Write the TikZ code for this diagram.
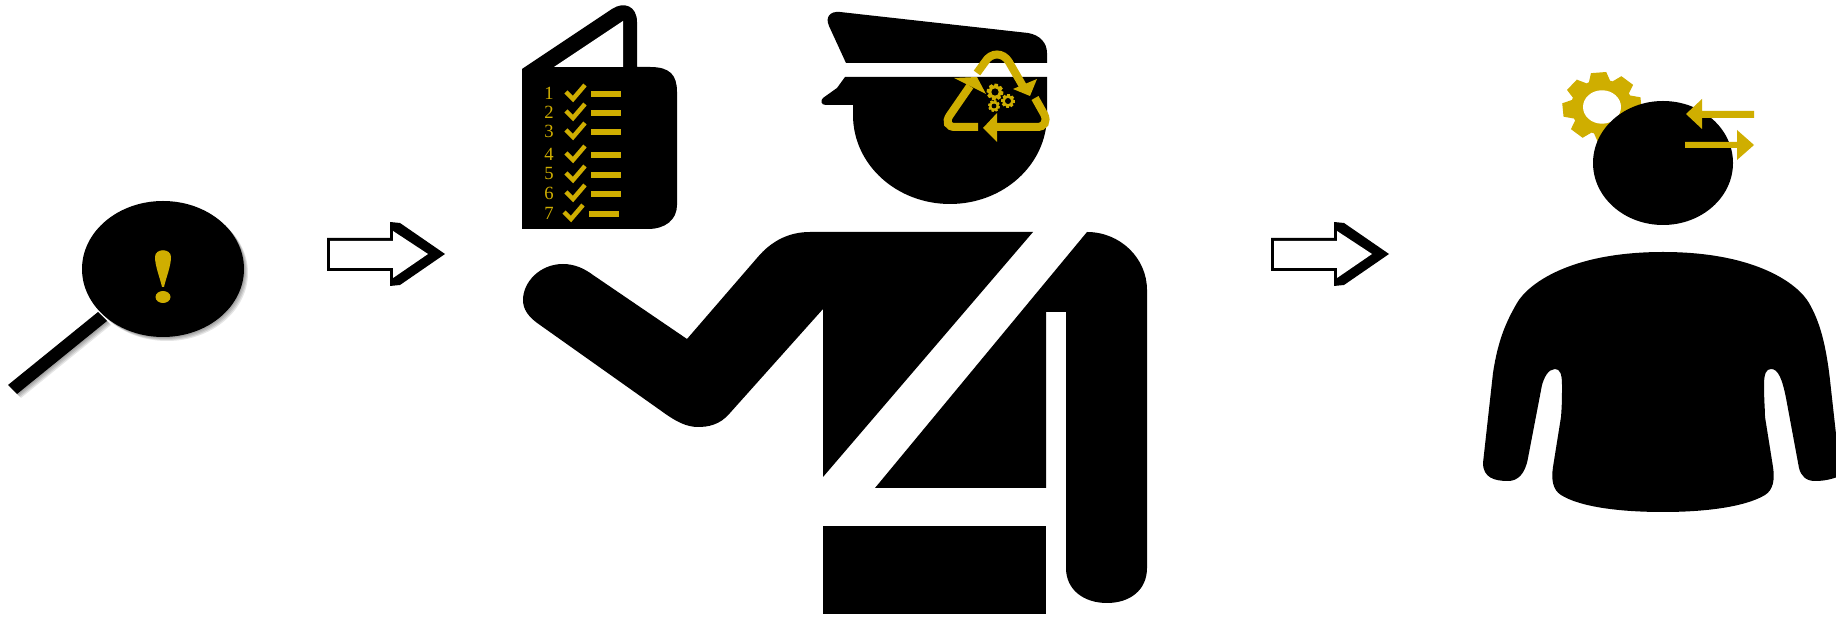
\documentclass[tikz,border=0pt]{standalone}
\usepackage{fontspec}
\setmainfont{Liberation Serif}
\definecolor{gold}{HTML}{CFAE00}
\tikzset{
  ink/.style={fill=black,draw=none},
  goldfill/.style={fill=gold,draw=none},
  band/.style={draw=gold,line width=0.16cm,line cap=butt},
  tickline/.style={draw=gold,line width=0.09cm,line cap=butt,line join=miter},
  dashline/.style={draw=gold,line width=0.115cm},
  numeral/.style={text=gold,font=\fontsize{10.6pt}{12pt}\selectfont,inner sep=0pt,anchor=center},
  halo/.style={fill=black,draw=none,opacity=0.10},
}
% cog: cx, cy, outer, inner, hole, yscale, rotation, hole colour
\newcommand{\cog}[8]{%
  \begin{scope}[shift={(#1,#2)},yscale=#6]
    \fill[gold] ({#7-20}:#4) \foreach \a in {0,45,...,315}{
      -- ({#7+\a-20}:#4) -- ({#7+\a-11}:#3) -- ({#7+\a+11}:#3) -- ({#7+\a+20}:#4)} -- cycle;
    \fill[#8] (0,0) circle (#5);
  \end{scope}}
% checklist row: line y
\newcommand{\checkrow}[3]{%
  \draw[tickline] ({566+#2},{#1-2}) -- ({573+#2},{#1+5}) -- ({585+#2},{#1-9});
  \draw[dashline] ({591+#2},#1) -- ({621+#2},#1);
  \node[numeral] (num#3) at (549,{#1-1}) {#3};}
% block arrow: x offset
\newcommand{\blockarrow}[1]{%
  \begin{scope}[xshift=#1*0.02cm]
    \fill[ink] (327,238) -- (390,238) -- (390,222) -- (400,223) -- (445,254) -- (400,285) -- (390,286) -- (390,271) -- (327,271) -- cycle;
    \fill[white] (330,241) -- (393,241) -- (393,231) -- (428,254) -- (393,278) -- (393,268) -- (330,268) -- cycle;
  \end{scope}}
\begin{document}
\begin{tikzpicture}[x=0.02cm,y=-0.02cm]
\useasboundingbox (0,0) rectangle (1836,617);
\clip (0,0) rectangle (1836,617);
\fill[white] (0,0) rectangle (1836,617);

% magnifier shadow
\foreach \d in {1,2,3,4}{
  \fill[halo] (98+\d,312+\d) -- (107+\d,321+\d) -- (17+\d,394+\d) -- (8+\d,385+\d) -- cycle;
  \fill[halo] (163+\d,269+\d) ellipse [x radius=81,y radius=68];
}
% magnifier
\fill[ink] (98,312) -- (107,321) -- (17,394) -- (8,385) -- cycle;
\fill[ink] (163,269) ellipse [x radius=81,y radius=68];
\fill[goldfill] (155,257) .. controls (155,248) and (171,248) .. (171,257) .. controls (171,266) and (166,278) .. (164,287) -- (162,287) .. controls (160,278) and (155,266) .. (155,257) -- cycle;
\fill[goldfill] (163,297) ellipse [x radius=7.5,y radius=6];

\blockarrow{0}
\blockarrow{944}

% book
\fill[ink] (522,69) -- (612,9) .. controls (624,1) and (637,6) .. (637,22) -- (637,67) -- (650,67) .. controls (670,67) and (677,75) .. (677,92) -- (677,205) .. controls (677,220) and (665,229) .. (648,229) -- (522,229) -- cycle;
\fill[white] (554,67) -- (623,21) -- (623,67) -- cycle;
\checkrow{94}{0}{1}
\checkrow{113}{0}{2}
\checkrow{132}{0}{3}
\checkrow{155}{0}{4}
\checkrow{175}{0}{5}
\checkrow{194}{0}{6}
\checkrow{214}{-2}{7}

% officer: cap
\fill[ink] (846,63) -- (829,26) .. controls (825,17) and (830,11) .. (840,12) -- (1028,33) .. controls (1040,35) and (1047,43) .. (1047,53) -- (1047,63) -- cycle;
% officer: face
\fill[ink] (845,77) -- (1047,77) -- (1047,115) .. controls (1047,165) and (1003,204) .. (950,204) .. controls (897,204) and (853,165) .. (853,115) -- (853,105) -- (826,105) .. controls (821,105) and (820,101) .. (823,98) -- (837,88) -- cycle;
% officer: arm and chest
\fill[ink] (1033,232) -- (823,477) -- (823,309) -- (730,413) .. controls (720,425) and (708,427) .. (698,427) .. controls (686,427) and (676,421) .. (667,415) -- (540,325) .. controls (528,317) and (523,309) .. (523,300) .. controls (523,282) and (540,264) .. (563,264) .. controls (575,264) and (585,269) .. (593,275) -- (687,339) -- (757,258) .. controls (772,240) and (790,232) .. (810,232) -- cycle;
% officer: right arm and torso
\fill[ink] (1087,232) .. controls (1120,232) and (1147,258) .. (1147,290) -- (1147,568) .. controls (1147,590) and (1130,603) .. (1107,603) .. controls (1084,603) and (1066,590) .. (1066,568) -- (1066,312) -- (1046,312) -- (1046,488) -- (875,488) -- cycle;
% officer: legs
\fill[ink] (823,526) rectangle (1046,614);

% recycling sign
\draw[band] (977,73) -- (985,62) .. controls (991,52) and (1003,52) .. (1009,62) -- (1024,88);
\fill[goldfill] (1037,79) -- (1030,96) -- (1013,89) -- cycle;
\draw[band] (970,86) -- (950,115) .. controls (945,122) and (948,127) .. (955,127) -- (978,127);
\fill[goldfill] (954,78) -- (977,77) -- (986,94) -- cycle;
\draw[band] (1035,98) -- (1044,114) .. controls (1048,122) and (1044,127) .. (1037,127) -- (997,127);
\fill[goldfill] (983,128) -- (997,113) -- (997,142) -- cycle;
\cog{995}{92}{8.5}{6.5}{3.6}{1}{10}{black}
\cog{1008}{101}{7}{5.3}{3}{1}{5}{black}
\cog{994}{106}{6}{4.6}{2.4}{1}{15}{black}

% person with gear
\cog{1602}{107}{40}{31}{19}{0.88}{-5}{white}
\fill[ink] (1663,163) ellipse [x radius=70,y radius=62];
\fill[ink] (1663,252) .. controls (1756,252) and (1798,284) .. (1809,303) .. controls (1820,322) and (1826,345) .. (1830,380) -- (1840,470) -- (1840,476) .. controls (1830,480) and (1822,481) .. (1815,481) .. controls (1806,481) and (1801,476) .. (1799,468) -- (1786,398) .. controls (1782,378) and (1778,369) .. (1771,369) .. controls (1766,369) and (1764,374) .. (1764,385) .. controls (1764,400) and (1765,410) .. (1765,417) -- (1773,467) .. controls (1775,480) and (1773,490) .. (1765,495) .. controls (1745,507) and (1705,512) .. (1663,512) .. controls (1620,512) and (1580,507) .. (1561,495) .. controls (1553,490) and (1551,480) .. (1553,467) -- (1561,417) .. controls (1562,405) and (1562,395) .. (1562,385) .. controls (1562,374) and (1560,369) .. (1555,369) .. controls (1548,369) and (1544,378) .. (1542,385) -- (1528,458) .. controls (1525,475) and (1517,481) .. (1508,481) .. controls (1495,481) and (1483,478) .. (1483,463) -- (1493,373) .. controls (1498,340) and (1506,322) .. (1517,303) .. controls (1528,284) and (1570,252) .. (1663,252) -- cycle;
% person: arrows
\fill[goldfill] (1754,111) -- (1702,111) -- (1702,99) -- (1686,114) -- (1702,129) -- (1702,118) -- (1754,118) -- cycle;
\fill[goldfill] (1685,142) -- (1737,142) -- (1737,130) -- (1754,145) -- (1737,160) -- (1737,148) -- (1685,148) -- cycle;
\end{tikzpicture}
\end{document}
